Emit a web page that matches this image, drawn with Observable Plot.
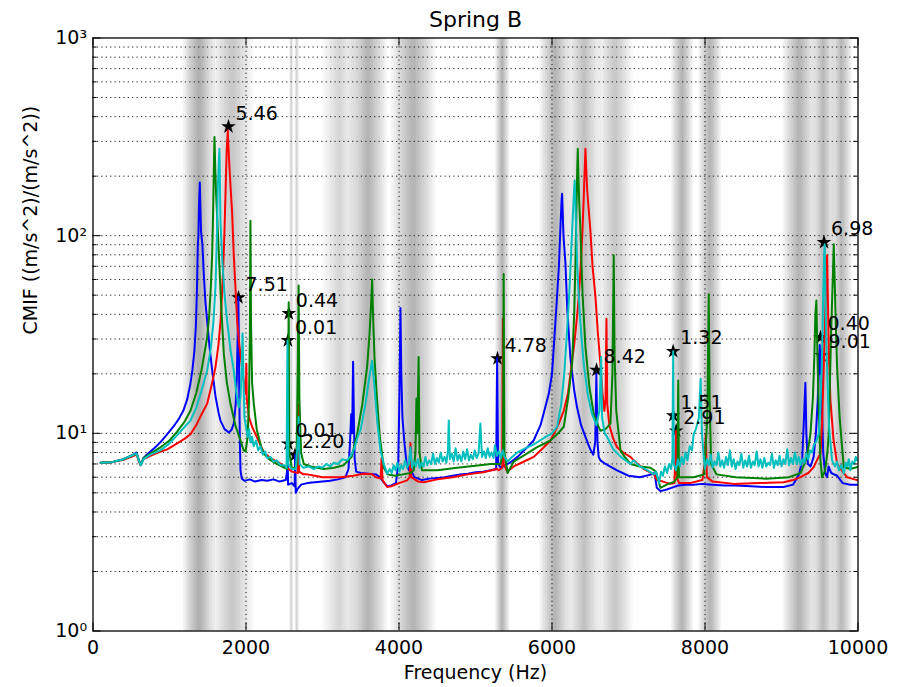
<!DOCTYPE html>
<html>
<head>
<meta charset="utf-8">
<script src="https://cdn.jsdelivr.net/npm/d3@7"></script>
<script src="https://cdn.jsdelivr.net/npm/@observablehq/plot@0.6"></script>
<style>
  html, body { margin: 0; padding: 0; background: #fff; }
  #chart { width: 900px; height: 687px; }
</style>
</head>
<body>
<div id="chart"></div>
<script>
// ---------- data (frequency Hz, CMIF value) ----------
const title = "Spring B";
const xLabel = "Frequency (Hz)";
const yLabel = "CMIF ((m/s^2)/(m/s^2))";

const xTicks = [0, 2000, 4000, 6000, 8000, 10000];
const xGridTicks = [2000, 4000, 6000, 8000];
const yMajorTicks = [1, 10, 100, 1000];
const yMinorTicks = [2,3,4,5,6,7,8,9,20,30,40,50,60,70,80,90,200,300,400,500,600,700,800,900];

// shaded frequency regions: start, end, shade strength
const bandLo    = [1180, 1550, 2570, 2640, 3000, 3350, 3900, 5260, 5840, 6200, 6600, 7560, 7920, 9020, 9400, 9650];
const bandHi    = [1600, 2100, 2625, 2700, 3450, 3850, 4480, 5450, 6250, 6650, 7060, 7850, 8220, 9450, 9700, 9930];
const bandShade = [0.95, 0.65, 0.55, 0.55, 0.4,  0.9,  0.85, 0.85, 0.85, 0.7,  0.6,  0.85, 0.85, 0.85, 0.75, 0.75];

const blue = [[100,7.1],[250,7.15],[400,7.4],[500,7.7],[570,8.0],[600,7.3],[625,6.9],[660,7.5],[720,7.9],[800,8.4],[880,9.0],[960,9.8],[1050,10.8],[1120,11.8],[1180,13],[1230,14.8],[1270,17.5],[1300,21],[1325,26],[1345,35],[1360,55],[1370,90],[1378,100],[1385,140],[1396,186],[1404,140],[1412,105],[1430,90],[1450,62],[1470,46],[1492,37],[1525,27],[1557,21],[1600,15.5],[1640,12.8],[1666,11.6],[1720,10.5],[1775,10.1],[1810,10.4],[1840,11.2],[1865,14],[1880,19],[1890,30],[1900,49],[1906,30],[1912,16],[1920,9],[1928,6.5],[1945,5.9],[1980,5.75],[2050,5.85],[2120,5.7],[2200,5.8],[2280,5.75],[2360,5.85],[2440,5.7],[2520,5.8],[2536,6.4],[2542,8.7],[2550,5.5],[2600,5.6],[2635,5.4],[2642,7.8],[2650,5.0],[2670,5.2],[2720,5.5],[2800,5.6],[2900,5.65],[3000,5.7],[3100,5.75],[3200,5.85],[3300,6.0],[3340,6.6],[3360,9],[3375,12.5],[3388,10],[3400,23],[3410,12],[3420,7.5],[3440,6.4],[3500,6.3],[3600,6.25],[3700,6.2],[3750,6.0],[3800,5.65],[3850,5.4],[3900,5.45],[3960,5.6],[3990,7],[4005,15],[4019,43],[4030,20],[4045,12],[4070,9],[4100,7],[4130,6.5],[4150,8.5],[4165,6.4],[4200,6.0],[4300,5.8],[4400,5.9],[4500,5.95],[4600,6.0],[4700,6.1],[4800,6.2],[4900,6.25],[5000,6.35],[5100,6.4],[5200,6.5],[5270,6.6],[5283,24],[5295,7],[5330,6.7],[5450,7.1],[5550,7.6],[5650,8.3],[5760,9.2],[5850,11.0],[5900,13],[5960,16],[6000,20],[6030,30],[6060,45],[6090,70],[6110,110],[6125,150],[6132,163],[6140,130],[6150,100],[6176,72],[6200,42],[6241,24],[6290,16.5],[6328,13.5],[6380,11],[6437,9.6],[6500,8.3],[6540,7.8],[6565,9],[6580,20],[6595,9],[6610,7.6],[6633,7.3],[6700,7.0],[6850,6.5],[7000,6.1],[7150,6.0],[7300,6.2],[7340,6.3],[7370,5.3],[7420,5.1],[7500,5.2],[7560,5.3],[7650,5.45],[7750,5.5],[7850,5.5],[7966,5.55],[8100,5.5],[8250,5.45],[8400,5.45],[8600,5.4],[8800,5.35],[9029,5.35],[9150,5.5],[9230,6.2],[9270,7.3],[9290,11],[9312,18],[9325,10],[9345,7],[9380,6.8],[9420,7.6],[9450,10],[9475,15],[9490,22],[9500,28],[9508,20],[9518,26],[9528,14],[9545,8],[9570,6.3],[9596,6.0],[9615,6.8],[9650,6.3],[9727,6.1],[9800,5.6],[9900,5.5],[9990,5.5]];

const red = [[100,7.1],[250,7.15],[400,7.35],[500,7.6],[570,7.8],[600,7.2],[625,6.9],[660,7.4],[750,7.7],[850,8.0],[970,8.3],[1100,8.9],[1200,9.4],[1274,9.9],[1350,11],[1420,12.5],[1492,14.1],[1550,17.5],[1600,21.5],[1640,28],[1670,38],[1700,65],[1720,110],[1735,180],[1748,270],[1762,340],[1775,260],[1790,200],[1805,160],[1819,130],[1840,80],[1862,55],[1884,37],[1905,30],[1928,25],[1965,19],[1998,16],[2004,22.5],[2010,15],[2040,12],[2080,10.8],[2146,9.5],[2233,8.0],[2320,7.5],[2407,7.2],[2480,6.9],[2537,6.7],[2600,6.4],[2680,6.3],[2686,14],[2694,6.4],[2750,6.2],[2800,6.2],[2900,6.1],[3000,6.0],[3235,6.0],[3400,6.1],[3540,6.25],[3650,6.2],[3700,6.0],[3760,5.9],[3772,7.5],[3785,5.8],[3845,5.35],[3900,5.4],[4000,5.6],[4106,5.78],[4140,6],[4150,8.9],[4160,6],[4250,5.7],[4324,5.66],[4500,5.85],[4700,6.0],[4900,6.2],[5100,6.35],[5283,6.6],[5300,6.5],[5350,6.7],[5358,38],[5368,7],[5413,6.4],[5500,6.8],[5600,7.1],[5762,7.6],[5880,8.4],[5980,9.2],[6080,11],[6154,13],[6210,16],[6241,20],[6290,28],[6330,40],[6350,49],[6380,75],[6400,110],[6415,157],[6428,220],[6437,275],[6447,220],[6460,170],[6480,135],[6502,106],[6530,70],[6568,49],[6600,32],[6633,22.5],[6660,16],[6685,13],[6700,15],[6712,38],[6722,14],[6750,11],[6800,9.4],[6851,8.5],[6930,8.0],[7025,7.6],[7068,7.3],[7200,6.6],[7330,6.2],[7374,5.8],[7450,5.7],[7548,5.55],[7600,5.6],[7613,7.5],[7623,10.3],[7632,6],[7660,5.6],[7800,5.6],[7966,5.8],[7995,7],[8010,9.9],[8025,6.0],[8100,5.7],[8375,5.55],[8700,5.6],[9029,5.66],[9150,5.8],[9247,6.0],[9350,6.3],[9421,6.75],[9470,7.4],[9509,7.9],[9530,11],[9552,21.6],[9570,38],[9585,60],[9596,79.5],[9605,50],[9620,25],[9640,14.6],[9680,9.3],[9727,7],[9800,6.4],[9858,6.0],[9990,5.8]];

const green = [[100,7.1],[250,7.15],[400,7.4],[500,7.7],[570,7.9],[600,7.3],[625,6.9],[660,7.5],[750,7.9],[882,8.5],[1000,9.2],[1100,10.2],[1200,11.5],[1274,13],[1350,16],[1420,21],[1492,30.6],[1520,40],[1540,55],[1558,81],[1570,130],[1580,220],[1588,316],[1598,220],[1610,160],[1625,120],[1645,81],[1675,45],[1710,25.3],[1750,18],[1797,14.1],[1860,11],[1928,9.2],[1970,8.2],[1995,8.1],[2020,9.5],[2038,14],[2050,30],[2058,119],[2066,35],[2080,18],[2102,14.1],[2140,10.5],[2200,8.5],[2233,7.9],[2300,7.4],[2400,7.0],[2500,6.7],[2535,6.6],[2548,12],[2558,46],[2566,8],[2600,6.6],[2660,6.8],[2676,20],[2688,56],[2698,15],[2720,8.0],[2755,7.0],[2850,6.8],[3016,6.6],[3150,6.7],[3278,6.9],[3380,7.6],[3453,9.9],[3520,14],[3583,21.6],[3615,32],[3635,45],[3649,60],[3660,40],[3680,24],[3714,14.6],[3750,9.5],[3801,6.7],[3850,6.2],[3950,6.1],[4050,6.2],[4150,6.3],[4193,6.5],[4215,8],[4228,15],[4240,10],[4256,24.3],[4268,8],[4300,6.5],[4500,6.5],[4760,6.7],[5000,6.85],[5200,7.0],[5326,7.0],[5360,8],[5368,64],[5378,8],[5420,6.3],[5500,7.2],[5650,7.8],[5800,8.5],[5980,9.2],[6080,10],[6154,10.8],[6210,15],[6263,22.5],[6290,40],[6306,72],[6320,140],[6330,220],[6337,275],[6345,200],[6355,150],[6372,106],[6400,50],[6437,27.3],[6490,17],[6546,12.5],[6600,11],[6633,10.3],[6700,10.5],[6764,11.2],[6790,20],[6807,79.5],[6818,25],[6840,13],[6895,8.2],[6950,7.6],[7025,7.0],[7150,6.8],[7286,6.7],[7360,6.4],[7417,5.3],[7500,5.5],[7600,5.7],[7640,6],[7650,18.5],[7660,6],[7700,6.0],[7850,6.0],[7990,6.2],[8030,12],[8049,50.6],[8060,15],[8080,7],[8150,6.2],[8400,6.0],[8800,5.9],[9100,6.0],[9250,6.3],[9330,7.5],[9378,9.9],[9410,15],[9430,25],[9443,40],[9456,47],[9470,25],[9490,12],[9509,7.3],[9530,6.0],[9570,6.5],[9600,8],[9617,9.9],[9648,31.8],[9670,60],[9683,90.6],[9695,60],[9710,35],[9727,21.6],[9760,12],[9814,6.75],[9900,6.6],[9990,6.75]];

const cyan = [[100,7.1],[250,7.15],[400,7.4],[500,7.7],[570,7.9],[600,7.3],[625,6.9],[660,7.4],[750,7.8],[882,8.2],[1000,8.9],[1100,9.8],[1200,10.8],[1274,11.6],[1350,13.5],[1420,16.5],[1492,20.8],[1540,27],[1575,37],[1601,55],[1620,100],[1631,176],[1645,240],[1653,275],[1660,180],[1666,119],[1690,75],[1720,50],[1753,37.2],[1800,26],[1840,20.8],[1875,16],[1906,13.5],[1928,15.2],[1945,22],[1955,32],[1965,20],[1980,12],[2000,10.8],[2020,9.6],[2040,10.5],[2058,9.0],[2080,9.6],[2100,8.6],[2130,9.2],[2160,8.2],[2189,8.6],[2220,7.8],[2250,8.1],[2276,7.5],[2320,7.6],[2360,7.2],[2400,7.3],[2450,6.9],[2500,6.9],[2530,6.7],[2542,29.5],[2552,7],[2600,6.6],[2650,6.6],[2676,9],[2688,12.1],[2700,7],[2750,6.7],[2820,6.8],[2886,6.6],[2950,6.8],[3000,6.7],[3050,7.0],[3100,6.8],[3150,7.1],[3200,7.0],[3260,7.4],[3322,7.3],[3380,7.8],[3420,8.5],[3460,9.6],[3500,10.5],[3560,14],[3610,19],[3649,23.3],[3680,17],[3720,11],[3758,8.2],[3800,7.0],[3845,6.25],[3880,6.6],[3905,6.3],[3930,6.9],[3955,6.5],[3980,7.1],[4005,6.4],[4030,6.9],[4055,6.6],[4080,7.3],[4105,6.7],[4130,7.0],[4150,8.5],[4170,6.7],[4195,7.2],[4220,6.8],[4245,7.4],[4270,6.7],[4295,7.1],[4320,6.8],[4345,7.6],[4370,6.9],[4395,7.3],[4420,7.0],[4445,7.9],[4470,7.0],[4495,7.5],[4520,7.1],[4545,8.0],[4570,7.2],[4595,7.6],[4620,7.1],[4640,8.2],[4650,11.6],[4665,7.4],[4690,7.9],[4715,7.2],[4740,8.4],[4765,7.3],[4790,7.8],[4815,7.2],[4840,8.1],[4865,7.4],[4890,8.3],[4915,7.3],[4940,7.8],[4965,7.4],[4990,8.2],[5015,7.5],[5040,7.9],[5064,11.2],[5085,7.6],[5110,8.1],[5135,7.5],[5160,8.4],[5185,7.6],[5210,8.0],[5235,7.5],[5255,8.7],[5280,7.7],[5305,8.1],[5330,7.5],[5355,8.2],[5380,7.6],[5420,7.2],[5480,7.6],[5545,8.0],[5650,8.4],[5762,8.8],[5900,9.5],[6000,10],[6067,10.8],[6120,14],[6160,20],[6197,33],[6230,55],[6263,106],[6285,160],[6297,190],[6310,130],[6328,72],[6360,42],[6390,29],[6415,22.5],[6470,15.5],[6524,12.5],[6580,11],[6620,13],[6642,24.3],[6655,12],[6690,10],[6720,9.6],[6800,8.3],[6900,7.6],[7025,7.0],[7068,7.3],[7150,6.8],[7250,6.5],[7330,6.2],[7360,6.4],[7400,5.6],[7425,6.4],[7450,6.1],[7475,6.8],[7505,6.3],[7530,7.0],[7555,6.6],[7575,7.5],[7584,26],[7592,7],[7620,6.5],[7645,7.4],[7670,6.8],[7695,7.6],[7720,7.0],[7745,8.0],[7770,7.3],[7800,8.6],[7830,8.2],[7852,9.9],[7880,10.5],[7920,12],[7943,18.9],[7960,10],[7985,7.5],[8000,6.6],[8025,7.4],[8050,6.9],[8075,7.8],[8100,6.7],[8125,7.2],[8150,6.9],[8175,8.0],[8200,6.8],[8225,7.3],[8250,6.7],[8275,7.6],[8300,6.9],[8325,8.2],[8350,6.8],[8375,7.4],[8400,6.6],[8425,7.2],[8450,6.9],[8475,7.9],[8500,6.7],[8525,7.3],[8550,6.8],[8575,7.7],[8600,6.7],[8625,7.2],[8650,6.9],[8675,8.1],[8700,6.8],[8725,7.4],[8750,6.7],[8775,7.5],[8800,6.8],[8825,7.1],[8850,6.9],[8875,7.9],[8900,6.7],[8925,7.3],[8950,6.9],[8975,7.7],[9000,6.8],[9025,7.4],[9050,7.0],[9075,8.3],[9100,6.9],[9125,7.5],[9150,7.0],[9175,8.0],[9200,7.0],[9225,7.6],[9250,6.9],[9275,7.4],[9300,7.1],[9325,7.9],[9350,7.4],[9375,8.2],[9400,8.0],[9425,8.8],[9450,9.0],[9487,9.9],[9510,14],[9530,25],[9545,50],[9558,80],[9565,90.6],[9575,50],[9585,30],[9596,21.6],[9620,11],[9661,7.3],[9700,6.8],[9725,7.2],[9750,6.5],[9780,6.9],[9814,6.25],[9840,7.1],[9860,6.8],[9880,7.4],[9900,6.5],[9925,7.2],[9950,7.0],[9970,7.6],[9990,7.3]];

// annotated peaks
const starHz    = [1771, 1902, 2560, 2548, 2555, 2640, 5288, 6582, 7584, 7584, 7623, 9556, 9510, 9523];
const starVal   = [356, 48.6, 40.4, 29.5, 8.85, 7.77, 23.9, 20.9, 26.0, 12.3, 10.3, 92.6, 30.6, 24.8];
const starLabel = ["5.46","7.51","0.44","0.01","0.01","2.20","4.78","8.42","1.32","1.51","2.91","6.98","0.40","9.01"];

// ---------- layout ----------
const W = 900, H = 687;
const mL = 92.5, mR = 42.5, mT = 37.5, mB = 56.5;
const innerW = W - mL - mR, innerH = H - mT - mB;

const bands = bandLo.map((lo, i) => ({lo, hi: bandHi[i], s: bandShade[i]}));
const LAYERS = 8;
const bandLayers = bands.flatMap(b => {
  const c = (b.lo + b.hi) / 2, h = (b.hi - b.lo) / 2;
  return d3.range(LAYERS).map(k => ({x1: c - h * (1 - k / LAYERS), x2: c + h * (1 - k / LAYERS), op: b.s * 0.045}));
});

const stars = starHz.map((x, i) => ({x, y: starVal[i], t: starLabel[i]}));
const sup = {0: "\u2070", 1: "\u00B9", 2: "\u00B2", 3: "\u00B3"};
const font = "DejaVu Sans";
const dotted = {stroke: "black", strokeWidth: 0.9, strokeDasharray: "1.2,3.2"};
const lineOpts = (color) => ({x: d => d[0], y: d => d[1], stroke: color, strokeWidth: 2, strokeLinejoin: "round"});

const chart = Plot.plot({
  width: W, height: H,
  marginLeft: mL, marginRight: mR, marginTop: mT, marginBottom: mB,
  x: {domain: [0, 10000]},
  y: {type: "log", domain: [1, 1000]},
  style: {fontFamily: font, fontSize: "19px", background: "white", color: "black"},
  marks: [
    Plot.rect(bandLayers, {x1: "x1", x2: "x2", fill: "black", fillOpacity: d => d.op}),
    Plot.ruleY(yMinorTicks.concat(yMajorTicks.slice(1, 3)), dotted),
    Plot.ruleX(xGridTicks, dotted),
    Plot.dot(stars, {x: "x", y: "y", symbol: "star", fill: "black", r: 4.6}),
    Plot.line(blue, lineOpts("#0000ff")),
    Plot.line(red, lineOpts("#ff0000")),
    Plot.line(green, lineOpts("#008000")),
    Plot.line(cyan, lineOpts("#00bfbf")),
    Plot.text(stars, {x: "x", y: "y", text: "t", textAnchor: "start", dx: 7, dy: -13, fontSize: 19, fill: "black"}),
    // inward ticks on all four sides
    Plot.tickY(yMajorTicks, {y: d => d, insetRight: innerW - 8, stroke: "black"}),
    Plot.tickY(yMajorTicks, {y: d => d, insetLeft: innerW - 8, stroke: "black"}),
    Plot.tickY(yMinorTicks, {y: d => d, insetRight: innerW - 4, stroke: "black"}),
    Plot.tickY(yMinorTicks, {y: d => d, insetLeft: innerW - 4, stroke: "black"}),
    Plot.tickX(xTicks, {x: d => d, insetTop: innerH - 8, stroke: "black"}),
    Plot.tickX(xTicks, {x: d => d, insetBottom: innerH - 8, stroke: "black"}),
    Plot.frame({stroke: "black", strokeWidth: 1.3}),
    Plot.axisX({ticks: xTicks, tickSize: 0, tickPadding: 9, tickFormat: d => String(d), label: null, fontSize: 19}),
    Plot.axisY({ticks: yMajorTicks, tickSize: 0, tickPadding: 6, tickFormat: d => "10" + sup[Math.round(Math.log10(d))], label: null, fontSize: 19}),
    Plot.text([xLabel], {frameAnchor: "bottom", lineAnchor: "middle", dy: 42, fontSize: 19, fill: "black"}),
    Plot.text([yLabel], {frameAnchor: "left", lineAnchor: "middle", dx: -62, rotate: -90, fontSize: 19, fill: "black"}),
    Plot.text([title], {frameAnchor: "top", lineAnchor: "middle", dy: -18, fontSize: 22, fill: "black"})
  ]
});
document.getElementById("chart").appendChild(chart);
</script>
</body>
</html>
